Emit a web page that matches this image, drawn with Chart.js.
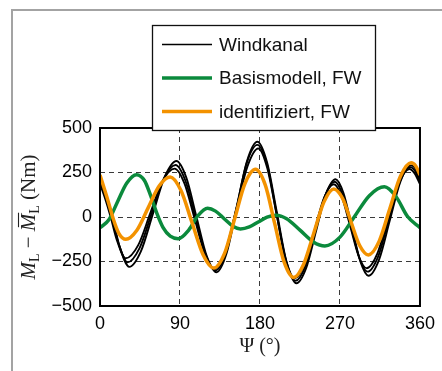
<!DOCTYPE html>
<html><head><meta charset="utf-8">
<script src="https://cdn.jsdelivr.net/npm/chart.js@4.4.1/dist/chart.umd.min.js"></script>
<style>
html,body{margin:0;padding:0;background:#fff;}
canvas{display:block;}
</style></head>
<body>
<canvas id="c" width="442" height="371"></canvas>
<script>
// ---- data ----
const seriesLabels = ['Windkanal', 'Basismodell, FW', 'identifiziert, FW'];
const xTicks = [0, 90, 180, 270, 360];
const yTicks = [-500, -250, 0, 250, 500];

// Windkanal (three measured runs)
const windA_psi = [0,7,14,22,33,46,59.5,73,86,97,108.5,120,131,142.5,154,165.5,177,188,199,210,221,232,243,254,265,274,283.5,293,302,314,326,338,350,355,360];
const windA_val = [215,120,0,-165,-280,-193,17,228,315,223,2,-218,-310,-202,56,316,423,306,25,-255,-372,-286,-80,126,212,133,-59,-251,-330,-239,-20,199,290,271,215];
const windB_psi = [0,7,13,21,31,44.5,58,71.5,85,96,107.5,119,130,142,153.5,165,177,188,198.5,209,220,231,242,253,264,273,282.5,292,301,313,325,337,349,355,360];
const windB_val = [200,110,0,-150,-255,-175,18,212,292,205,-4,-213,-300,-197,52,302,405,293,23,-246,-358,-277,-80,117,198,124,-54,-233,-307,-221,-13,194,280,255,200];
const windC_psi = [0,6,12,19,29,43,56.5,70,84,95,106.5,118,129,141,153.5,166,178,188,198.5,209,219,230,241,252,263,272,281.5,291,300,312,324,336,348,354,360];
const windC_val = [185,100,0,-130,-232,-158,20,198,272,189,-10,-209,-292,-193,46,286,385,278,20,-238,-345,-268,-80,106,184,115,-52,-219,-288,-206,-9,188,270,245,185];

// Basismodell, FW
const basis_psi = [0,10,20,30,41,50,57,64,71,79,88,100,110,121,130,140,150,158,168,178,188,198,210,225,240,253,270,286,303,320,333,346,360];
const basis_val = [-60,-16,89,190,238,205,120,20,-60,-108,-122,-72,6,49,33,-11,-54,-67,-56,-28,-1,10,-10,-74,-140,-163,-113,0,120,170,115,3,-60];

// identifiziert, FW
const ident_psi = [0,8,15,21,29,41.5,54,66.5,79,91,103.5,116,128,140,151.5,163,175,186,196.5,207,218,229,240.5,252,263,273,282.5,292,302,314,326,338,350,355,360];
const ident_val = [236,108,-12,-90,-125,-74,50,174,225,150,-31,-212,-287,-206,-10,187,268,179,-36,-251,-340,-267,-91,85,158,104,-28,-159,-213,-137,46,229,305,288,236];

const BLACK = '#000000', GREEN = '#0b8a3c', ORANGE = '#f39200';

function pts(xs, ys){ return xs.map((x,i)=>({x:x, y:ys[i]})); }

const datasets = [
  {label: seriesLabels[2], data: pts(ident_psi, ident_val), borderColor: ORANGE, borderWidth: 3.5, order: 0},
  {label: seriesLabels[1], data: pts(basis_psi, basis_val), borderColor: GREEN, borderWidth: 3.5, order: 1},
  {label: seriesLabels[0], data: pts(windA_psi, windA_val), borderColor: BLACK, borderWidth: 1.9, order: 2},
  {label: seriesLabels[0], data: pts(windB_psi, windB_val), borderColor: BLACK, borderWidth: 1.9, order: 3},
  {label: seriesLabels[0], data: pts(windC_psi, windC_val), borderColor: BLACK, borderWidth: 1.9, order: 4}
].map(d => Object.assign(d, {pointRadius: 0, fill: false, cubicInterpolationMode: 'monotone'}));

const legendItems = [
  {text: seriesLabels[0], color: BLACK, width: 1.5},
  {text: seriesLabels[1], color: GREEN, width: 3.5},
  {text: seriesLabels[2], color: ORANGE, width: 3.5}
];

const SANS = '"Liberation Sans", Arial, Helvetica, sans-serif';
const SERIF = '"Liberation Serif", "Times New Roman", serif';

const decor = {
  id: 'decor',
  beforeDraw(chart){
    const c = chart.ctx;
    c.save();
    c.fillStyle = '#fff'; c.fillRect(0,0,chart.width,chart.height);
    c.strokeStyle = '#a3a3a3'; c.lineWidth = 2;
    c.beginPath(); c.moveTo(12, chart.height); c.lineTo(12, 10); c.lineTo(chart.width, 10); c.stroke();
    c.restore();
  },
  afterDraw(chart){
    const c = chart.ctx, a = chart.chartArea;
    c.save();
    // plot box
    c.strokeStyle = '#000'; c.lineWidth = 2;
    c.strokeRect(a.left, a.top, a.right - a.left, a.bottom - a.top);
    // legend box
    const lx = 152.5, ly = 25.5, lw = 223, lh = 105;
    c.fillStyle = '#fff'; c.fillRect(lx, ly, lw, lh);
    c.lineWidth = 1.3; c.strokeStyle = '#111'; c.strokeRect(lx, ly, lw, lh);
    const rowY = [44.5, 78, 111.5];
    c.font = '19px ' + SANS; c.fillStyle = '#111'; c.textBaseline = 'middle'; c.textAlign = 'left';
    legendItems.forEach((it, i) => {
      c.strokeStyle = it.color; c.lineWidth = it.width;
      c.beginPath(); c.moveTo(162, rowY[i]); c.lineTo(212, rowY[i]); c.stroke();
      c.fillText(it.text, 219, rowY[i] + 1);
    });
    // x title
    c.font = '20px ' + SERIF; c.textAlign = 'center'; c.textBaseline = 'middle'; c.fillStyle = '#222';
    c.fillText('\u03A8 (\u00B0)', (a.left + a.right) / 2, 347);
    // y title (rotated)
    const big = 21, small = 14;
    const pieces = [
      {t:'M', f:'italic ' + big + 'px ' + SERIF, dy:0},
      {t:'L', f: small + 'px ' + SERIF, dy:4},
      {t:' \u2212 ', f: big + 'px ' + SERIF, dy:0},
      {t:'M', f:'italic ' + big + 'px ' + SERIF, dy:0, bar:true},
      {t:'L', f: small + 'px ' + SERIF, dy:4},
      {t:' (Nm)', f: big + 'px ' + SERIF, dy:0}
    ];
    let total = 0;
    pieces.forEach(p => { c.font = p.f; p.w = c.measureText(p.t).width; total += p.w; });
    c.translate(35, (a.top + a.bottom) / 2);
    c.rotate(-Math.PI / 2);
    c.textAlign = 'left'; c.textBaseline = 'alphabetic'; c.fillStyle = '#222'; c.strokeStyle = '#222';
    let x = -total / 2;
    pieces.forEach(p => {
      c.font = p.f; c.fillText(p.t, x, p.dy);
      if (p.bar) { c.lineWidth = 1.1; c.beginPath(); c.moveTo(x + 4, -16.5); c.lineTo(x + p.w + 1, -16.5); c.stroke(); }
      x += p.w;
    });
    c.restore();
  }
};

const gridColor = (lo, hi) => (ctx) => (ctx.tick && (ctx.tick.value === lo || ctx.tick.value === hi)) ? 'rgba(0,0,0,0)' : '#3a3a3a';

new Chart(document.getElementById('c'), {
  type: 'line',
  data: {datasets},
  plugins: [decor],
  options: {
    responsive: false, animation: false,
    layout: {padding: {left: 0, top: 128, right: 15, bottom: 0}},
    plugins: {legend: {display: false}, tooltip: {enabled: false}},
    scales: {
      x: {
        type: 'linear', min: 0, max: 360,
        afterBuildTicks: s => { s.ticks = xTicks.map(v => ({value: v})); },
        afterFit: s => { s.height = 65; },
        ticks: {color: '#000', font: {family: SANS, size: 18}, padding: 7, maxRotation: 0, autoSkip: false},
        grid: {color: gridColor(0, 360), lineWidth: 1, drawTicks: false},
        border: {display: false, dash: [5, 4]}
      },
      y: {
        type: 'linear', min: -500, max: 500,
        afterBuildTicks: s => { s.ticks = yTicks.map(v => ({value: v})); },
        afterFit: s => { s.width = 100; },
        ticks: {color: '#000', font: {family: SANS, size: 18}, padding: 8,
          callback: v => String(v).replace('-', '\u2212')},
        grid: {color: gridColor(-500, 500), lineWidth: 1, drawTicks: false},
        border: {display: false, dash: [5, 4]}
      }
    }
  }
});
</script>
</body></html>
